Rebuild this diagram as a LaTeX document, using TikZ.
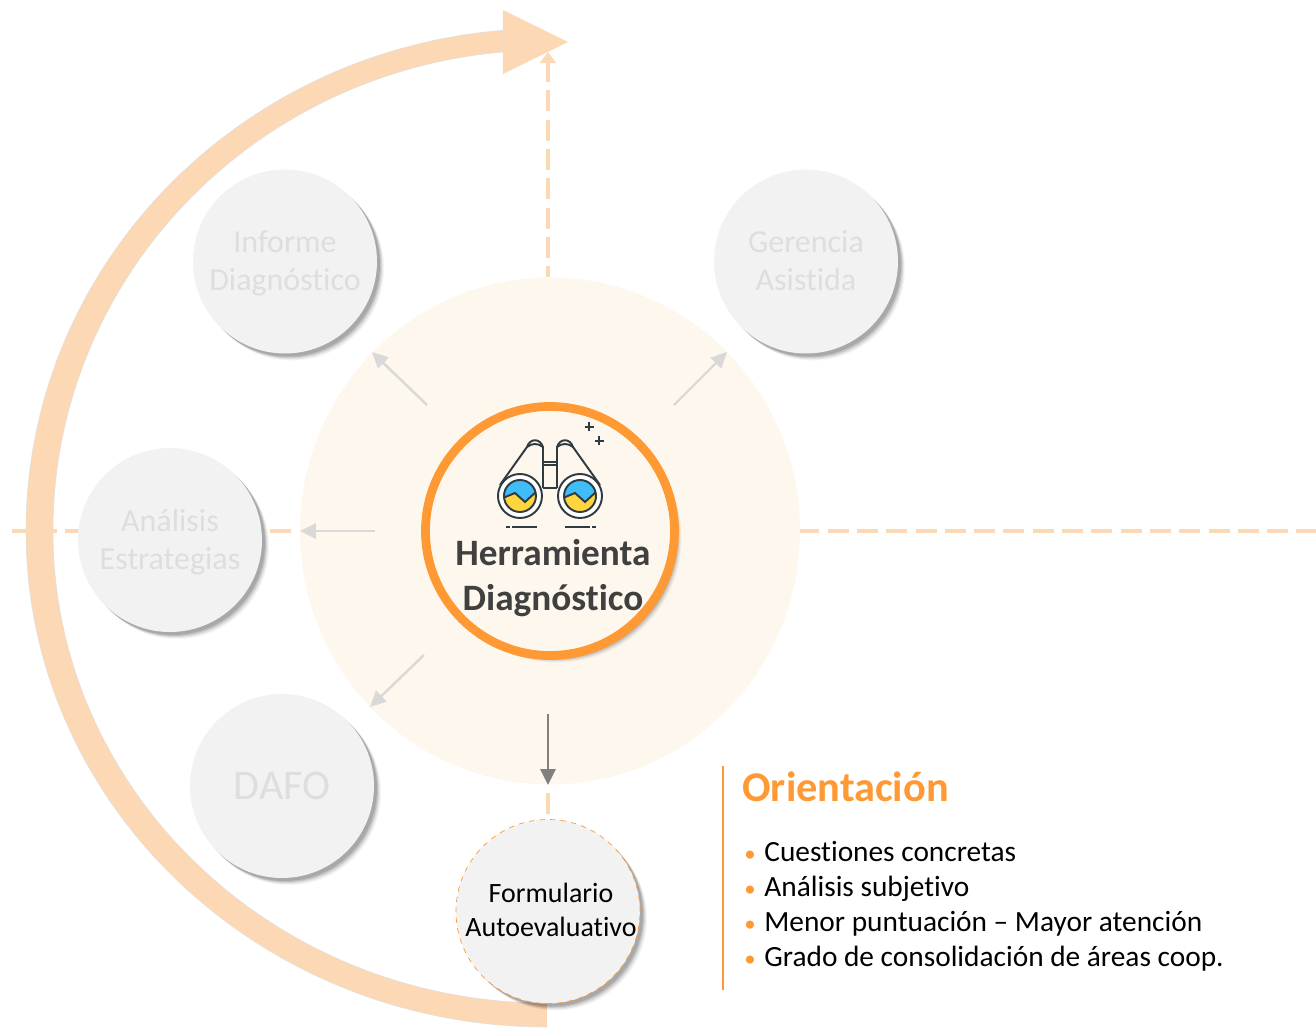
\documentclass[tikz,border=0pt]{standalone}
\usepackage{fontspec}
\setmainfont[Ligatures=NoCommon]{Carlito}
\usepackage{tikz}
\usetikzlibrary{positioning,shapes.geometric,shadows,arrows.meta}
\definecolor{bandorange}{HTML}{FDD8B4}
\definecolor{paleorange}{HTML}{FEF7EE}
\definecolor{ringorange}{HTML}{FF9933}
\definecolor{satgray}{HTML}{F2F2F2}
\definecolor{fadedtext}{HTML}{DEDEDE}
\definecolor{arrowgray}{HTML}{D9D9D9}
\definecolor{darktext}{HTML}{404040}
\definecolor{icondark}{HTML}{2F3B40}
\definecolor{lensblue}{HTML}{3FBDF8}
\definecolor{lensyellow}{HTML}{FFD53F}
\newcommand{\bulletmark}{\makebox[11.4pt][l]{\textcolor{ringorange}{\fontsize{13}{13}\selectfont •}}}
\newcommand{\lineup}{\rule{0pt}{.9em}}
\newcommand{\linedown}{\rule[-.27em]{0pt}{.27em}}
\tikzset{softshadow/.style={
  drop shadow={shadow xshift=0.14cm,shadow yshift=-0.14cm,opacity=.04,fill=black},
  drop shadow={shadow xshift=0.12cm,shadow yshift=-0.12cm,opacity=.06,fill=black},
  drop shadow={shadow xshift=0.10cm,shadow yshift=-0.10cm,opacity=.08,fill=black},
  drop shadow={shadow xshift=0.08cm,shadow yshift=-0.08cm,opacity=.10,fill=black},
  drop shadow={shadow xshift=0.06cm,shadow yshift=-0.06cm,opacity=.12,fill=black}}}
\tikzstyle{sat} = [circle, minimum size=3.68cm, inner sep=0pt, fill=satgray, softshadow, text=fadedtext, align=center, font=\fontsize{18.2}{21.6}\selectfont]
\tikzstyle{hub} = [circle, minimum size=4.98cm, line width=5pt, draw=ringorange, fill=paleorange, softshadow]
\tikzstyle{halo} = [ellipse, minimum width=10cm, minimum height=10.14cm, inner sep=0pt, fill=paleorange]
\tikzstyle{dashline} = [bandorange, line width=1.8pt, dash pattern=on 0.42cm off 0.166cm]
\tikzstyle{arrow} = [line width=1.4pt, -{Stealth[inset=0pt,length=9pt,width=8.5pt]}]
\tikzstyle{band} = [fill=bandorange, draw=gray!25, line width=0.3pt]

\begin{document}
\begin{tikzpicture}[node distance=3cm]
\useasboundingbox (-11,-9.92) rectangle (15.32,10.62);

\node (halo) [halo] {};
\coordinate (topend) at (-0.04,9.58);
\coordinate (leftend) at (-10.76,0);
\coordinate (rightend) at (15.32,0);
\coordinate (lowstart) at (-0.04,-5.24);
\coordinate (lowend) at (-0.04,-5.68);

\draw [dashline, dash phase=0.42cm] (halo.west) -- (leftend);
\draw [dashline, dash phase=0.04cm] (halo.east) -- (rightend);
\draw [dashline] (lowstart) -- (lowend);

% big band
\path [band] (-0.06,-9.92) arc [x radius=10.42, y radius=9.92, start angle=270, end angle=180]
  arc [x radius=10.42, y radius=10.05, start angle=180, end angle=94.85]
  -- (-0.94,9.58) arc [x radius=9.88, y radius=9.62, start angle=95.11, end angle=180]
  arc [x radius=9.88, y radius=9.44, start angle=180, end angle=270];
\fill [bandorange] (-0.94,10.42) -- (0.36,9.78) -- (-0.94,9.14) -- cycle;
\draw [dashline, dash phase=0.20cm, -{Stealth[inset=0pt,length=6.3pt,width=9pt]}] (halo.north -| topend) -- (topend);

\node (hub) [hub] at (halo) {};
\node (hublabel) [below of=hub, xshift=0.06cm, yshift=2.05cm, align=center, text=darktext, font=\fontsize{21.2}{25.6}\selectfont\bfseries] {Herramienta\\Diagnóstico};

% binoculars
\begin{scope}[shift={(hub)}, x=0.02cm, y=-0.02cm, icondark, line width=1.1pt]
\foreach \side in {-1,1} {
  \begin{scope}[xscale=\side]
  \draw (50,-46) -- (23,-84) .. controls (20,-93) and (10,-93) .. (7,-84) -- (7,-43);
  \draw (23,-84) .. controls (18,-88) and (12,-88) .. (7,-84);
  \end{scope}
}
\draw (-7,-69) -- (7,-69);
\draw (-7,-66) -- (7,-66);
\draw (-7,-43) -- (7,-43);
\foreach \lensx in {-30,30} {
  \draw [fill=white] (\lensx,-35) circle [radius=22];
  \begin{scope}
  \clip (\lensx,-35) circle [radius=16];
  \fill [lensblue] (\lensx-17,-52) rectangle (\lensx+17,-18);
  \fill [lensyellow] (\lensx-17,-33) -- (\lensx-5,-38) -- (\lensx+5,-29) -- (\lensx+17,-40) -- (\lensx+17,-18) -- (\lensx-17,-18) -- cycle;
  \draw (\lensx-17,-33) -- (\lensx-5,-38) -- (\lensx+5,-29) -- (\lensx+17,-40);
  \end{scope}
  \draw (\lensx,-35) circle [radius=16];
}
\draw (-44,-4) -- (-40,-4) (-38,-4) -- (-13,-4);
\draw (15,-4) -- (40,-4) (42,-4) -- (46,-4);
\draw (34.5,-104) -- (43.5,-104) (39,-108.5) -- (39,-99.5);
\draw (44.5,-90) -- (53.5,-90) (49,-94.5) -- (49,-85.5);
\end{scope}

\node (informe) [sat, left of=hub, xshift=-2.30cm, yshift=5.39cm] {\lineup Informe\\Diagnóstico\linedown};
\node (gerencia) [sat, right of=hub, xshift=2.12cm, yshift=5.39cm] {\lineup Gerencia\\Asistida\linedown};
\node (analisis) [sat, left of=hub, xshift=-4.60cm, yshift=-0.18cm] {\lineup Análisis\\Estrategias\linedown};
\node (dafo) [sat, left of=hub, xshift=-2.36cm, yshift=-5.10cm, font=\fontsize{24}{26}\selectfont] {\lineup DAFO\linedown};
\node (form) [sat, below of=hub, xshift=-0.04cm, yshift=-4.61cm, draw=ringorange, dashed, line width=0.4pt] {};
\node (formlabel) [right of=form, xshift=-2.94cm, yshift=0.03cm, align=center, font=\fontsize{15.9}{19.3}\selectfont] {Formulario\\Autoevaluativo};

\coordinate (a1s) at (-2.46,2.52);
\coordinate (a1e) at (-3.56,3.58);
\coordinate (a2s) at (2.48,2.52);
\coordinate (a2e) at (3.54,3.58);
\coordinate (a3s) at (-3.50,0);
\coordinate (a3e) at (-5.00,0);
\coordinate (a4s) at (-2.52,-2.48);
\coordinate (a4e) at (-3.60,-3.52);
\coordinate (a5s) at (-0.04,-3.66);
\coordinate (a5e) at (-0.04,-5.08);

\draw [arrow, arrowgray] (a1s) -- (a1e);
\draw [arrow, arrowgray] (a2s) -- (a2e);
\draw [arrow, arrowgray] (a3s) -- (a3e);
\draw [arrow, arrowgray] (a4s) -- (a4e);
\draw [arrow, gray, line width=1.7pt] (a5s) -- (a5e);

\coordinate (rules) at (3.46,-4.70);
\coordinate (rulee) at (3.46,-9.18);
\draw [ringorange, line width=0.8pt] (rules) -- (rulee);

\node (orient) [anchor=west, inner sep=0pt, text=ringorange, font=\fontsize{24.1}{28}\selectfont\bfseries] at (3.84,-5.12) {Orientación};
\node (lista) [anchor=north west, inner sep=0pt, align=left, text=black, font=\fontsize{16.7}{19.9}\selectfont] at (3.88,-6.20) {%
\bulletmark Cuestiones concretas\\
\bulletmark Análisis subjetivo\\
\bulletmark Menor puntuación – Mayor atención\\
\bulletmark Grado de consolidación de áreas coop.};
\end{tikzpicture}
\end{document}
